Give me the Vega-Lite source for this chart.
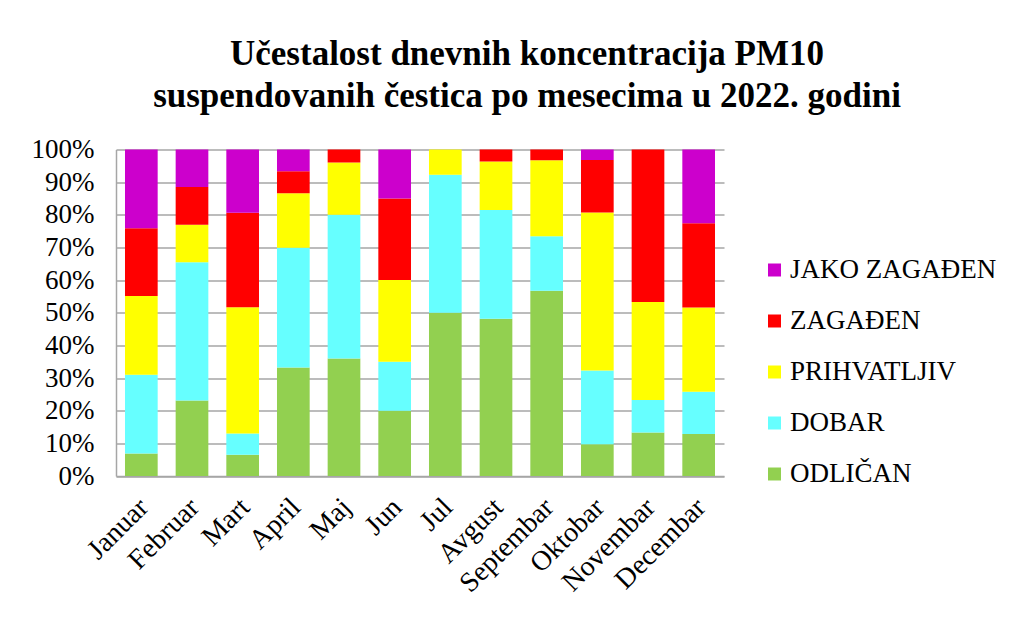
{
  "$schema": "https://vega.github.io/schema/vega-lite/v6.json",
  "autosize": {"type": "none"},
  "width": 608,
  "height": 326.5,
  "padding": {"left": 116, "top": 149.5, "right": 299, "bottom": 143},
  "background": "white",
  "title": {
    "text": ["Učestalost dnevnih koncentracija  PM10", "suspendovanih čestica po mesecima u 2022. godini"],
    "font": "Liberation Serif",
    "fontSize": 35,
    "fontWeight": "bold",
    "lineHeight": 42,
    "color": "black",
    "anchor": "middle",
    "dx": 107,
    "offset": 22
  },
  "data": {
    "values": [
      {"mesec": "Januar", "kategorija": "ODLIČAN", "k": 1, "procenat": 6.9},
      {"mesec": "Januar", "kategorija": "DOBAR", "k": 2, "procenat": 24.1},
      {"mesec": "Januar", "kategorija": "PRIHVATLJIV", "k": 3, "procenat": 24.1},
      {"mesec": "Januar", "kategorija": "ZAGAĐEN", "k": 4, "procenat": 20.7},
      {"mesec": "Januar", "kategorija": "JAKO ZAGAĐEN", "k": 5, "procenat": 24.1},
      {"mesec": "Februar", "kategorija": "ODLIČAN", "k": 1, "procenat": 23.1},
      {"mesec": "Februar", "kategorija": "DOBAR", "k": 2, "procenat": 42.3},
      {"mesec": "Februar", "kategorija": "PRIHVATLJIV", "k": 3, "procenat": 11.5},
      {"mesec": "Februar", "kategorija": "ZAGAĐEN", "k": 4, "procenat": 11.5},
      {"mesec": "Februar", "kategorija": "JAKO ZAGAĐEN", "k": 5, "procenat": 11.5},
      {"mesec": "Mart", "kategorija": "ODLIČAN", "k": 1, "procenat": 6.5},
      {"mesec": "Mart", "kategorija": "DOBAR", "k": 2, "procenat": 6.5},
      {"mesec": "Mart", "kategorija": "PRIHVATLJIV", "k": 3, "procenat": 38.7},
      {"mesec": "Mart", "kategorija": "ZAGAĐEN", "k": 4, "procenat": 29.0},
      {"mesec": "Mart", "kategorija": "JAKO ZAGAĐEN", "k": 5, "procenat": 19.4},
      {"mesec": "April", "kategorija": "ODLIČAN", "k": 1, "procenat": 33.3},
      {"mesec": "April", "kategorija": "DOBAR", "k": 2, "procenat": 36.7},
      {"mesec": "April", "kategorija": "PRIHVATLJIV", "k": 3, "procenat": 16.7},
      {"mesec": "April", "kategorija": "ZAGAĐEN", "k": 4, "procenat": 6.7},
      {"mesec": "April", "kategorija": "JAKO ZAGAĐEN", "k": 5, "procenat": 6.7},
      {"mesec": "Maj", "kategorija": "ODLIČAN", "k": 1, "procenat": 36.0},
      {"mesec": "Maj", "kategorija": "DOBAR", "k": 2, "procenat": 44.0},
      {"mesec": "Maj", "kategorija": "PRIHVATLJIV", "k": 3, "procenat": 16.0},
      {"mesec": "Maj", "kategorija": "ZAGAĐEN", "k": 4, "procenat": 4.0},
      {"mesec": "Jun", "kategorija": "ODLIČAN", "k": 1, "procenat": 20.0},
      {"mesec": "Jun", "kategorija": "DOBAR", "k": 2, "procenat": 15.0},
      {"mesec": "Jun", "kategorija": "PRIHVATLJIV", "k": 3, "procenat": 25.0},
      {"mesec": "Jun", "kategorija": "ZAGAĐEN", "k": 4, "procenat": 25.0},
      {"mesec": "Jun", "kategorija": "JAKO ZAGAĐEN", "k": 5, "procenat": 15.0},
      {"mesec": "Jul", "kategorija": "ODLIČAN", "k": 1, "procenat": 50.0},
      {"mesec": "Jul", "kategorija": "DOBAR", "k": 2, "procenat": 42.3},
      {"mesec": "Jul", "kategorija": "PRIHVATLJIV", "k": 3, "procenat": 7.7},
      {"mesec": "Avgust", "kategorija": "ODLIČAN", "k": 1, "procenat": 48.1},
      {"mesec": "Avgust", "kategorija": "DOBAR", "k": 2, "procenat": 33.3},
      {"mesec": "Avgust", "kategorija": "PRIHVATLJIV", "k": 3, "procenat": 14.8},
      {"mesec": "Avgust", "kategorija": "ZAGAĐEN", "k": 4, "procenat": 3.7},
      {"mesec": "Septembar", "kategorija": "ODLIČAN", "k": 1, "procenat": 56.7},
      {"mesec": "Septembar", "kategorija": "DOBAR", "k": 2, "procenat": 16.7},
      {"mesec": "Septembar", "kategorija": "PRIHVATLJIV", "k": 3, "procenat": 23.3},
      {"mesec": "Septembar", "kategorija": "ZAGAĐEN", "k": 4, "procenat": 3.3},
      {"mesec": "Oktobar", "kategorija": "ODLIČAN", "k": 1, "procenat": 9.7},
      {"mesec": "Oktobar", "kategorija": "DOBAR", "k": 2, "procenat": 22.6},
      {"mesec": "Oktobar", "kategorija": "PRIHVATLJIV", "k": 3, "procenat": 48.4},
      {"mesec": "Oktobar", "kategorija": "ZAGAĐEN", "k": 4, "procenat": 16.1},
      {"mesec": "Oktobar", "kategorija": "JAKO ZAGAĐEN", "k": 5, "procenat": 3.2},
      {"mesec": "Novembar", "kategorija": "ODLIČAN", "k": 1, "procenat": 13.3},
      {"mesec": "Novembar", "kategorija": "DOBAR", "k": 2, "procenat": 10.0},
      {"mesec": "Novembar", "kategorija": "PRIHVATLJIV", "k": 3, "procenat": 30.0},
      {"mesec": "Novembar", "kategorija": "ZAGAĐEN", "k": 4, "procenat": 46.7},
      {"mesec": "Decembar", "kategorija": "ODLIČAN", "k": 1, "procenat": 12.9},
      {"mesec": "Decembar", "kategorija": "DOBAR", "k": 2, "procenat": 12.9},
      {"mesec": "Decembar", "kategorija": "PRIHVATLJIV", "k": 3, "procenat": 25.8},
      {"mesec": "Decembar", "kategorija": "ZAGAĐEN", "k": 4, "procenat": 25.8},
      {"mesec": "Decembar", "kategorija": "JAKO ZAGAĐEN", "k": 5, "procenat": 22.6}
    ]
  },
  "mark": {"type": "bar"},
  "encoding": {
    "x": {
      "field": "mesec",
      "type": "nominal",
      "sort": ["Januar", "Februar", "Mart", "April", "Maj", "Jun", "Jul", "Avgust", "Septembar", "Oktobar", "Novembar", "Decembar"],
      "scale": {"paddingInner": 0.355, "paddingOuter": 0.1775},
      "axis": {
        "title": null,
        "labelAngle": -45,
        "labelFont": "Liberation Serif",
        "labelFontSize": 28,
        "labelColor": "black",
        "ticks": false,
        "labelPadding": 17,
        "labelOffset": -7,
        "domainColor": "#a6a6a6",
        "domainWidth": 1.5
      }
    },
    "y": {
      "field": "procenat",
      "type": "quantitative",
      "stack": "normalize",
      "scale": {"domain": [0, 1], "nice": false},
      "axis": {
        "title": null,
        "format": ".0%",
        "values": [0, 0.1, 0.2, 0.3, 0.4, 0.5, 0.6, 0.7, 0.8, 0.9, 1],
        "labelFont": "Liberation Serif",
        "labelFontSize": 27,
        "labelColor": "black",
        "ticks": false,
        "labelPadding": 22,
        "domainColor": "#a6a6a6",
        "domainWidth": 1.5,
        "grid": true,
        "gridColor": "#a6a6a6",
        "gridWidth": 1.5
      }
    },
    "color": {
      "field": "kategorija",
      "type": "nominal",
      "scale": {
        "domain": ["JAKO ZAGAĐEN", "ZAGAĐEN", "PRIHVATLJIV", "DOBAR", "ODLIČAN"],
        "range": ["#cc00cc", "#ff0000", "#ffff00", "#66ffff", "#92d050"]
      },
      "legend": {
        "title": null,
        "orient": "none",
        "legendX": 645,
        "legendY": 107,
        "symbolType": "square",
        "symbolSize": 169,
        "symbolStrokeWidth": 0,
        "symbolOpacity": 1,
        "labelFont": "Liberation Serif",
        "labelFontSize": 27,
        "labelColor": "black",
        "labelOffset": 2,
        "labelLimit": 400,
        "rowPadding": 23
      }
    },
    "order": {"field": "k", "type": "quantitative", "sort": "ascending"}
  },
  "config": {
    "view": {"stroke": null}
  }
}
